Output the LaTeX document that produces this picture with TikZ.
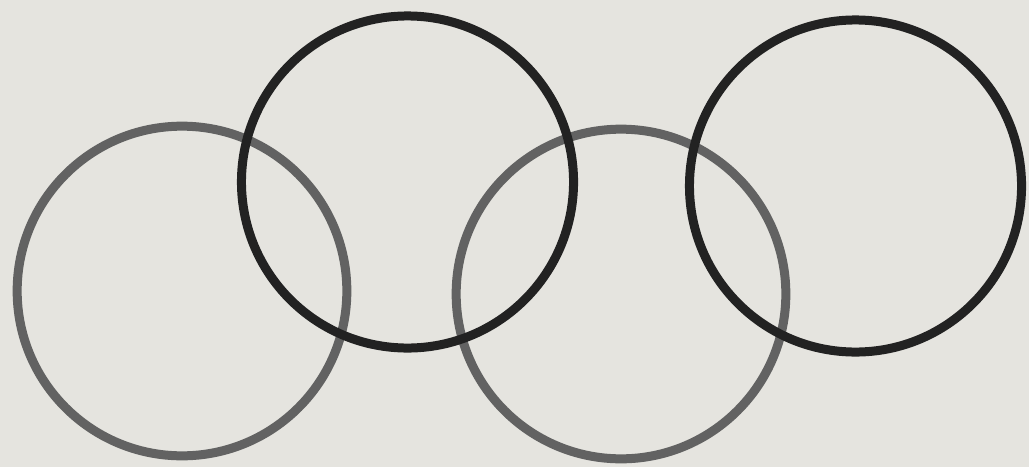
\documentclass[tikz,border=0pt]{standalone}
\usepackage{xcolor}
\usepackage{tikz}

\definecolor{paper}{RGB}{229,228,223}
\definecolor{ringgray}{RGB}{98,98,98}
\definecolor{ringdark}{RGB}{34,34,34}

\tikzset{
  ring/.style={line width=6.4pt}
}

\begin{document}
\begin{tikzpicture}[x=0.025cm, y=-0.025cm]
  % ── paper ──
  \fill[paper] (0,0) rectangle (1029,467);
  \useasboundingbox (0,0) rectangle (1029,467);

  % ── lower (gray) rings ──
  \foreach \cx/\cy in {182/291, 621/294} {
    \draw[ring, ringgray] (\cx,\cy) circle[radius=4.12cm];
  }

  % ── upper (dark) rings ──
  \foreach \cx/\cy in {407.5/182, 855.5/186} {
    \draw[ring, ringdark] (\cx,\cy) circle[radius=4.15cm];
  }
\end{tikzpicture}
\end{document}
